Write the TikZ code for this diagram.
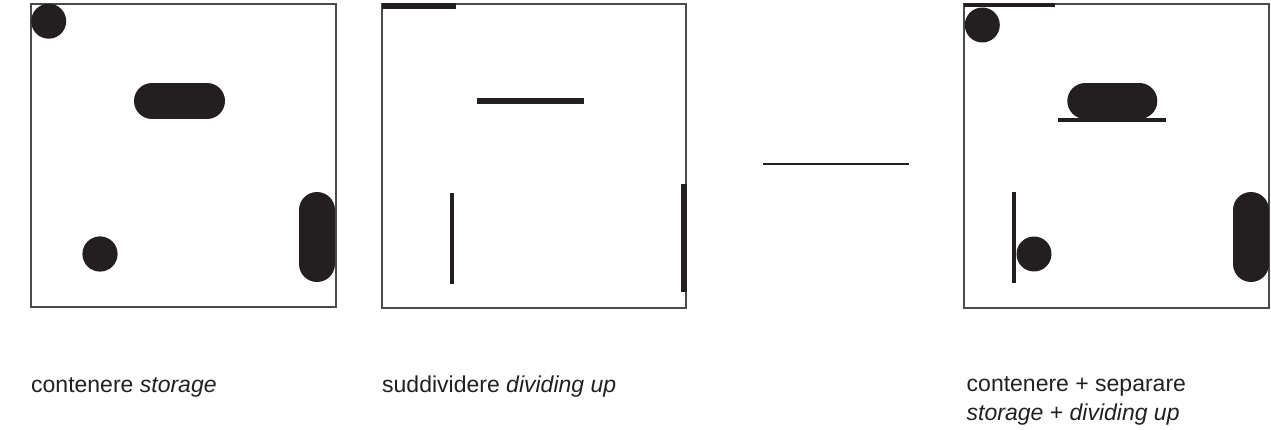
\documentclass[tikz,border=0pt]{standalone}
\usepackage{fontspec}
\setmainfont{Liberation Sans}
\usepackage{xcolor}
\usetikzlibrary{positioning}

\definecolor{ink}{HTML}{231F20}
\definecolor{framegray}{HTML}{4A4A4A}

\begin{document}
\begin{tikzpicture}[
  x=1pt, y=-1pt,
  frame box/.style={draw=framegray, line width=1.3pt},
  blob/.style={fill=ink},
  pill/.style={draw=ink, line width=36pt, line cap=round},
  bar/.style={draw=ink, line width=#1},
  bar/.default=4pt,
  caption/.style={anchor=base west, inner sep=0pt, text=ink, align=left,
    font=\fontsize{23}{28.3}\selectfont},
]
\useasboundingbox (0,0) rectangle (1271,430);

% riquadri
\draw[frame box] (31,4) rectangle (336,307);
\draw[frame box] (382,4) rectangle (686,308);
\draw[frame box] (964,4) rectangle (1269,308);

% contenere
\fill[blob] (48.7,21.2) circle (17.5);
\draw[pill] (152,101) -- (207,101);
\fill[blob] (100,254) circle (17.6);
\draw[pill] (317,210) -- (317,264);

% suddividere
\draw[bar=5.6pt] (382,6.2) -- (455.7,6.2);
\draw[bar=5.3pt] (476.7,101) -- (584,101);
\draw[bar=4pt] (452,192.7) -- (452,283.7);
\draw[bar=5.3pt] (684,184) -- (684,292);

% segno
\draw[ink, line width=1.3pt] (763.3,164) -- (908.7,164);

% contenere + separare
\draw[bar=4pt] (964,5.3) -- (1055,5.3);
\fill[blob] (982.3,25) circle (17.5);
\draw[pill] (1085.3,101) -- (1139.3,101);
\draw[bar=4pt] (1058.3,120.3) -- (1166.3,120.3);
\draw[bar=4pt] (1014,192) -- (1014,282.7);
\fill[blob] (1034,254) circle (17.5);
\draw[pill] (1251,210) -- (1251,264);

% didascalie
\node[caption] (storage) at (31,392.3) {contenere \textit{storage}};
\node[caption] (dividing) at (382,392.3) {suddividere \textit{dividing up}};
\node[caption] (both) at (966.5,420) {contenere + separare\\\textit{storage} + \textit{dividing up}};

\end{tikzpicture}
\end{document}
